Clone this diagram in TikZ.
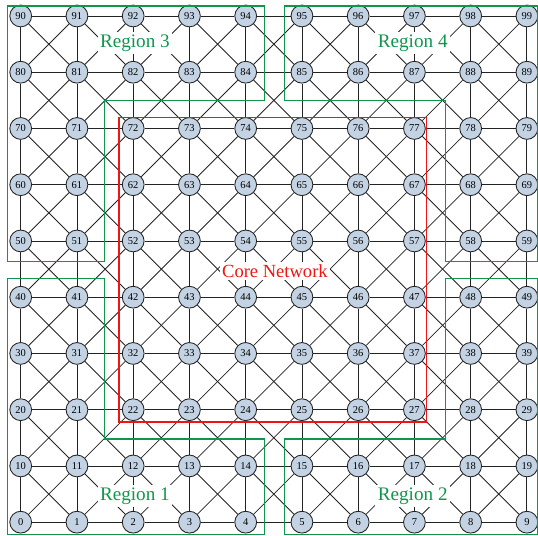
\documentclass[tikz,border=0pt]{standalone}
\usepackage{fontspec}
\setmainfont{Liberation Serif}
\usetikzlibrary{positioning}
\definecolor{regiongreen}{RGB}{16,150,76}
\definecolor{corered}{RGB}{240,20,20}
\definecolor{nodefill}{RGB}{196,211,228}
\definecolor{edgegray}{RGB}{35,35,35}

\begin{document}
\begin{tikzpicture}[
    x=1.6cm, y=1.6cm,
    vertex/.style={
        circle,
        draw=edgegray,
        line width=0.7pt,
        fill=nodefill,
        minimum size=0.62cm,
        inner sep=0pt,
        font=\fontsize{8.5}{9}\selectfont
    },
    link/.style={
        edgegray,
        line width=0.7pt
    },
    region/.style={
        regiongreen,
        line width=1.1pt
    },
    regionlabel/.style={
        fill=white,
        inner sep=2pt,
        text=regiongreen,
        font=\fontsize{15.5}{18}\selectfont
    }
]
\useasboundingbox (-0.368,-0.236) rectangle (9.197,9.284);

% ---------------- Nodes ----------------
\foreach \r in {0,...,9}
    \foreach \c in {0,...,9} {
        \pgfmathtruncatemacro{\k}{10*\r+\c}
        \node[vertex] (n\k) at (\c,\r) {\k};
    }

% ---------------- Links ----------------
\foreach \r in {0,...,9}
    \foreach \c in {0,...,8} {
        \pgfmathtruncatemacro{\a}{10*\r+\c}
        \pgfmathtruncatemacro{\b}{\a+1}
        \draw[link] (n\a) -- (n\b);
        \pgfmathtruncatemacro{\a}{10*\c+\r}
        \pgfmathtruncatemacro{\b}{\a+10}
        \draw[link] (n\a) -- (n\b);
    }
\foreach \r in {0,...,8}
    \foreach \c in {0,...,8} {
        \pgfmathtruncatemacro{\a}{10*\r+\c}
        \pgfmathtruncatemacro{\b}{\a+11}
        \pgfmathtruncatemacro{\d}{\a+1}
        \pgfmathtruncatemacro{\e}{\a+10}
        \draw[link] (n\a) -- (n\b);
        \draw[link] (n\d) -- (n\e);
    }

% ---------------- Regions ----------------
\draw[region] (-0.23,9.18) -- (4.33,9.18) -- (4.33,7.5) -- (1.49,7.5)
    -- (1.49,4.64) -- (-0.23,4.64) -- cycle;
\draw[region] (4.69,9.18) -- (9.2,9.18) -- (9.2,4.64) -- (7.55,4.64)
    -- (7.55,7.5) -- (4.69,7.5) -- cycle;
\draw[region] (-0.23,-0.22) -- (4.33,-0.22) -- (4.33,1.48) -- (1.49,1.48)
    -- (1.49,4.33) -- (-0.23,4.33) -- cycle;
\draw[region] (4.69,-0.22) -- (9.2,-0.22) -- (9.2,4.33) -- (7.55,4.33)
    -- (7.55,1.48) -- (4.69,1.48) -- cycle;

\node[regionlabel] (reg3) at (2.03,8.52) {Region 3};
\node[regionlabel] (reg4) at (6.97,8.52) {Region 4};
\node[regionlabel] (reg1) at (2.03,0.47) {Region 1};
\node[regionlabel] (reg2) at (6.97,0.47) {Region 2};

% ---------------- Core ----------------
\draw[corered, line width=1.1pt] (1.75,1.78) rectangle (7.21,7.19);
\node[fill=white, inner sep=2pt, text=corered,
    font=\fontsize{15}{18}\selectfont] (core) at (4.52,4.46) {Core Network};

\end{tikzpicture}
\end{document}
